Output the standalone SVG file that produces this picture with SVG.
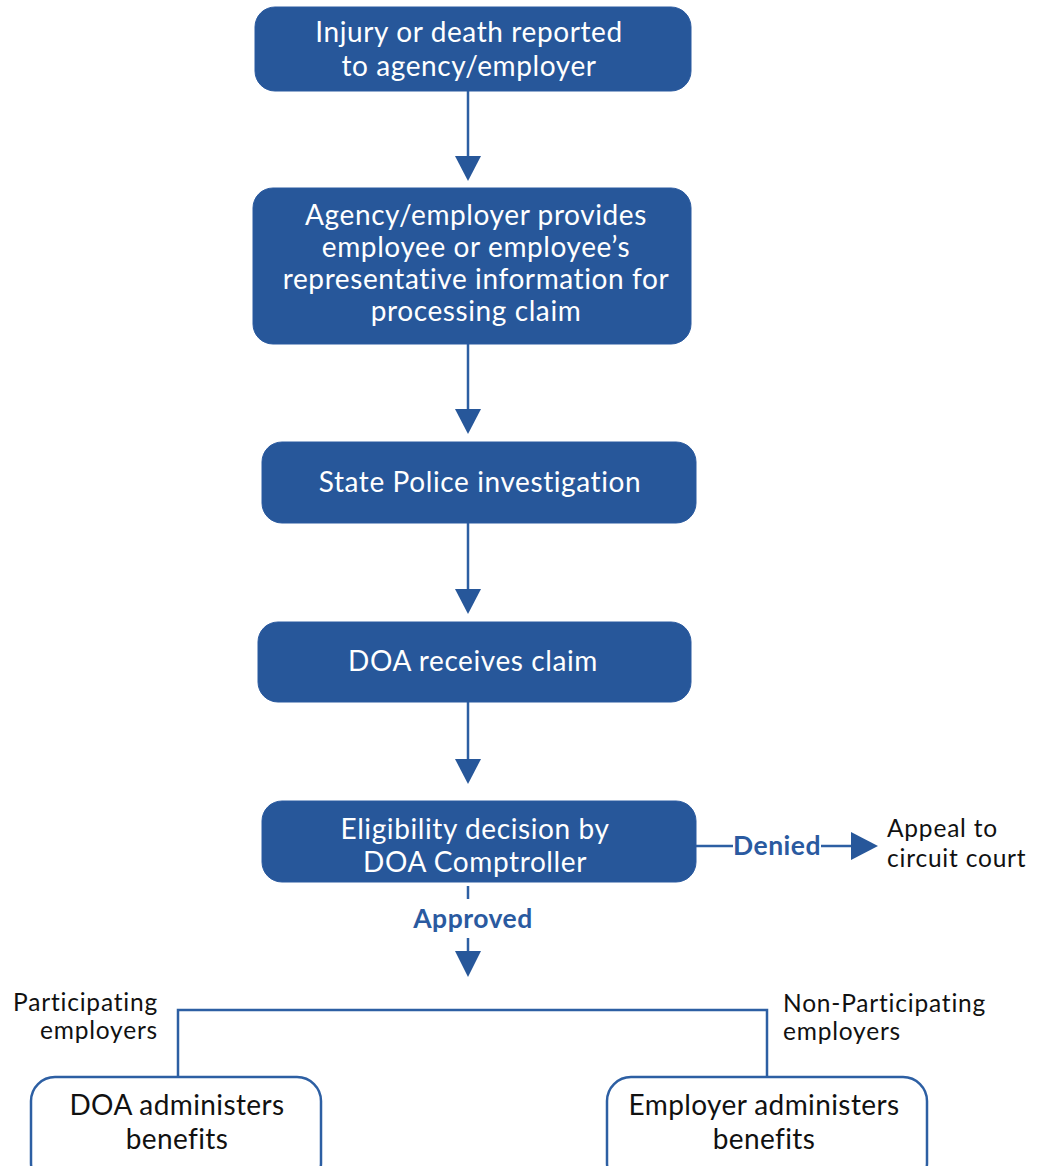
<svg xmlns="http://www.w3.org/2000/svg" width="1040" height="1166" viewBox="0 0 1040 1166">
<style>
.box{fill:#27579a;stroke:#2a5aa0;stroke-width:1}
.obox{fill:#fff;stroke:#2d5fa3;stroke-width:2.5}
.wt{font-family:Lato,"Open Sans",sans-serif;font-size:28px;letter-spacing:0.6px;fill:#fff;text-anchor:middle}
.bt{font-family:Lato,"Open Sans",sans-serif;font-size:28px;letter-spacing:0.4px;fill:#111;text-anchor:middle}
.lt{font-family:Lato,"Open Sans",sans-serif;font-size:24.5px;letter-spacing:0.8px;fill:#111}
.lab{font-family:Lato,"Open Sans",sans-serif;font-size:26.5px;letter-spacing:0.5px;font-weight:bold;fill:#2a5aa0;text-anchor:middle}
.ln{stroke:#2d5fa3;stroke-width:2.5;fill:none}
.ah{fill:#27579a}
</style>
<rect width="1040" height="1166" fill="#fff"/>
<g id="connectors">
<line class="ln" x1="468" y1="91" x2="468" y2="157"/>
<polygon class="ah" points="455,156 481,156 468,181"/>
<line class="ln" x1="468" y1="344" x2="468" y2="410"/>
<polygon class="ah" points="455,409 481,409 468,434"/>
<line class="ln" x1="468" y1="523" x2="468" y2="590"/>
<polygon class="ah" points="455,589 481,589 468,614"/>
<line class="ln" x1="468" y1="702" x2="468" y2="760"/>
<polygon class="ah" points="455,759 481,759 468,784"/>
<line class="ln" x1="468" y1="886" x2="468" y2="899"/>
<text class="lab" x="473" y="928">Approved</text>
<line class="ln" x1="468" y1="938" x2="468" y2="952"/>
<polygon class="ah" points="455,951 481,951 468,977"/>
<line class="ln" x1="696" y1="846" x2="733" y2="846"/>
<text class="lab" x="777" y="855">Denied</text>
<line class="ln" x1="821" y1="846" x2="853" y2="846"/>
<polygon class="ah" points="851,832 851,860 878,846"/>
<polyline class="ln" points="178,1077 178,1010 767,1010 767,1077"/>
<text class="lt" x="158" y="1011" text-anchor="end">Participating</text>
<text class="lt" x="158" y="1039" text-anchor="end">employers</text>
<text class="lt" x="783" y="1012">Non-Participating</text>
<text class="lt" x="783" y="1040">employers</text>
<text class="lt" x="887" y="837">Appeal to</text>
<text class="lt" x="887" y="867">circuit court</text>
</g>
<g id="n1">
<rect class="box" x="255" y="7" width="436" height="84" rx="20"/>
<text class="wt" x="469" y="42">Injury or death reported</text>
<text class="wt" x="469" y="76">to agency/employer</text>
</g>
<g id="n2">
<rect class="box" x="253" y="188" width="438" height="156" rx="20"/>
<text class="wt" x="476" y="225">Agency/employer provides</text>
<text class="wt" x="476" y="257">employee or employee’s</text>
<text class="wt" x="476" y="289">representative information for</text>
<text class="wt" x="476" y="321">processing claim</text>
</g>
<g id="n3">
<rect class="box" x="262" y="442" width="434" height="81" rx="20"/>
<text class="wt" x="480" y="492">State Police investigation</text>
</g>
<g id="n4">
<rect class="box" x="258" y="622" width="433" height="80" rx="20"/>
<text class="wt" x="473" y="671">DOA receives claim</text>
</g>
<g id="n5">
<rect class="box" x="262" y="801" width="434" height="81" rx="20"/>
<text class="wt" x="475" y="839">Eligibility decision by</text>
<text class="wt" x="475" y="872">DOA Comptroller</text>
</g>
<g id="n6">
<rect class="obox" x="31" y="1077" width="290" height="110" rx="24"/>
<text class="bt" x="177" y="1115">DOA administers</text>
<text class="bt" x="177" y="1149">benefits</text>
</g>
<g id="n7">
<rect class="obox" x="607" y="1077" width="320" height="110" rx="24"/>
<text class="bt" x="764" y="1115">Employer administers</text>
<text class="bt" x="764" y="1149">benefits</text>
</g>
</svg>
